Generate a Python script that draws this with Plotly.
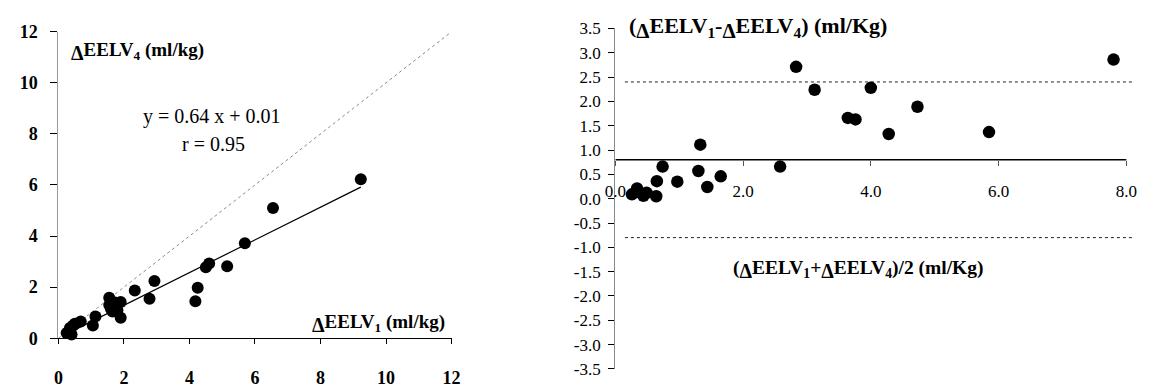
import plotly.graph_objects as go

# ---- Left panel: ΔEELV1 against ΔEELV4 (ml/kg) ----
eelv1 = [0.25, 0.35, 0.40, 0.45, 0.50, 0.68, 1.05, 1.13, 1.55, 1.55, 1.60, 1.65,
         1.73, 1.80, 1.90, 1.90, 2.33, 2.78, 2.93, 4.18, 4.25, 4.50, 4.60, 5.15,
         5.69, 6.55, 9.23]
eelv4 = [0.20, 0.40, 0.15, 0.50, 0.57, 0.65, 0.50, 0.85, 1.58, 1.30, 1.15, 1.05,
         1.40, 1.10, 1.42, 0.80, 1.87, 1.55, 2.24, 1.45, 1.98, 2.78, 2.93, 2.82,
         3.72, 5.10, 6.22]
slope, intercept, r_value = 0.64, 0.01, 0.95
left_ticks = [0, 2, 4, 6, 8, 10, 12]

# ---- Right panel: Bland-Altman, mean vs difference (ml/Kg) ----
ba_mean = [0.26, 0.34, 0.44, 0.49, 0.38, 0.64, 0.65, 0.74, 0.97, 1.30, 1.33, 1.44,
           1.65, 2.58, 2.83, 3.12, 3.64, 3.76, 4.00, 4.28, 4.73, 5.85, 7.80]
ba_diff = [0.09, 0.21, 0.06, 0.12, 0.13, 0.05, 0.36, 0.66, 0.35, 0.57, 1.11, 0.24,
           0.46, 0.66, 2.71, 2.24, 1.66, 1.63, 2.28, 1.33, 1.89, 1.37, 2.86]
bias = 0.8
loa_upper = 2.4
loa_lower = -0.8
right_xticks = [0, 2, 4, 6, 8]
right_xtext = ["0.0", "2.0", "4.0", "6.0", "8.0"]
right_yticks = [3.5, 3.0, 2.5, 2.0, 1.5, 1.0, 0.5, 0.0,
                -0.5, -1.0, -1.5, -2.0, -2.5, -3.0, -3.5]
right_ytext = ["3.5", "3.0", "2.5", "2.0", "1.5", "1.0", "0.5", "0.0",
               "-0.5", "-1.0", "-1.5", "-2.0", "-2.5", "-3.0", "-3.5"]

W, H = 1154, 388
FONT = "Liberation Serif, Times New Roman, serif"
NBSP = "\u00a0"


def px(x):
    return x / W


def py(y):
    return 1 - y / H


left_xdom = [px(48.3), px(448.3)]
left_ydom = [py(347), py(23)]
right_xdom = [px(615), px(1141.5)]
right_ydom = [py(379.5), py(19.5)]
right_yrange = [-3.5, 3.5]
# the x axis of the right panel sits on the bias line
xaxis2_pos = right_ydom[0] + (bias - right_yrange[0]) / (right_yrange[1] - right_yrange[0]) * (right_ydom[1] - right_ydom[0])

fig = go.Figure()

# identity line
fig.add_trace(go.Scatter(x=[0, 12], y=[0, 12], mode="lines",
                         line=dict(color="#8a8a8a", width=1, dash="dot"),
                         xaxis="x", yaxis="y", hoverinfo="skip"))
# regression line
fit_x = [min(eelv1), max(eelv1)]
fig.add_trace(go.Scatter(x=fit_x, y=[slope * v + intercept for v in fit_x], mode="lines",
                         line=dict(color="black", width=1.2),
                         xaxis="x", yaxis="y", hoverinfo="skip"))
fig.add_trace(go.Scatter(x=eelv1, y=eelv4, mode="markers",
                         marker=dict(color="black", size=12),
                         cliponaxis=False, xaxis="x", yaxis="y"))

# bias and limits of agreement
fig.add_trace(go.Scatter(x=[0, 8], y=[bias, bias], mode="lines",
                         line=dict(color="black", width=1.5),
                         xaxis="x2", yaxis="y2", hoverinfo="skip"))
for lim in (loa_upper, loa_lower):
    fig.add_trace(go.Scatter(x=[0.15, 8.1], y=[lim, lim], mode="lines",
                             line=dict(color="#222222", width=1, dash="dot"),
                             xaxis="x2", yaxis="y2", hoverinfo="skip"))
fig.add_trace(go.Scatter(x=ba_mean, y=ba_diff, mode="markers",
                         marker=dict(color="black", size=12.5),
                         cliponaxis=False, xaxis="x2", yaxis="y2"))


def delta(size):
    # a full-height delta dropped below the baseline
    return f'<sub><span style="font-size:{size}px">Δ</span></sub>'


annotations = [
    dict(text=f"<b>{delta(20)}EELV<sub>4</sub> (ml/kg)</b>", x=px(59), y=py(44),
         xanchor="left", yanchor="middle", font=dict(size=19)),
    dict(text=f"y = {slope:.2f} x + {intercept:.2f}", x=px(205), y=py(113),
         xanchor="center", yanchor="middle", font=dict(size=20)),
    dict(text=f"r = {r_value:.2f}", x=px(206), y=py(142),
         xanchor="center", yanchor="middle", font=dict(size=20)),
    dict(text=f"<b>{delta(20)}EELV<sub>1</sub> (ml/kg)</b>", x=px(444), y=py(331),
         xanchor="right", yanchor="middle", font=dict(size=19)),
    dict(text=f"<b>({delta(21)}EELV<sub>1</sub>-{delta(21)}EELV<sub>4</sub>) (ml/Kg)</b>",
         x=px(627), y=py(19), xanchor="left", yanchor="middle", font=dict(size=22)),
    dict(text=f"<b>({delta(20)}EELV<sub>1</sub>+{delta(20)}EELV<sub>4</sub>)/2 (ml/Kg)</b>",
         x=px(733), y=py(274), xanchor="left", yanchor="middle", font=dict(size=19.5)),
]
for a in annotations:
    a.update(xref="paper", yref="paper", showarrow=False)
    a["font"].update(family=FONT, color="black")

fig.update_layout(
    width=W, height=H,
    margin=dict(l=0, r=0, t=0, b=0),
    paper_bgcolor="white", plot_bgcolor="white",
    showlegend=False,
    font=dict(family=FONT, color="black"),
    annotations=annotations,
    xaxis=dict(domain=left_xdom, range=[0, 12], tickvals=left_ticks,
               showgrid=False, zeroline=False, showline=True, linecolor="black", linewidth=1,
               ticks="outside", ticklen=5, tickcolor="black",
               tickfont=dict(family=FONT, size=18, color="black", weight="bold"),
               ticklabelstandoff=18, anchor="y"),
    yaxis=dict(domain=left_ydom, range=[0, 12], tickvals=left_ticks,
               ticktext=[f"{v}{NBSP * 2}" for v in left_ticks],
               showgrid=False, zeroline=False, showline=True, linecolor="#9a9a9a", linewidth=1,
               ticks="outside", ticklen=7, tickcolor="black",
               tickfont=dict(family=FONT, size=18, color="black", weight="bold"),
               anchor="x"),
    xaxis2=dict(domain=right_xdom, range=[0, 8.1], tickvals=right_xticks, ticktext=right_xtext,
                showgrid=False, zeroline=False, showline=False,
                ticks="outside", ticklen=5, tickcolor="#555555",
                tickfont=dict(family=FONT, size=17, color="black"),
                ticklabelstandoff=11, anchor="free", position=xaxis2_pos),
    yaxis2=dict(domain=right_ydom, range=right_yrange, tickvals=right_yticks,
                ticktext=[f"{t}{NBSP}" for t in right_ytext],
                showgrid=False, zeroline=False, showline=True, linecolor="#8a8a8a", linewidth=1,
                ticks="outside", ticklen=6, tickcolor="black",
                tickfont=dict(family=FONT, size=17, color="black"),
                anchor="x2"),
)

# the figure fills the page edge to edge
fig.write_html("out.html", post_script="document.body.style.margin = '0';")
